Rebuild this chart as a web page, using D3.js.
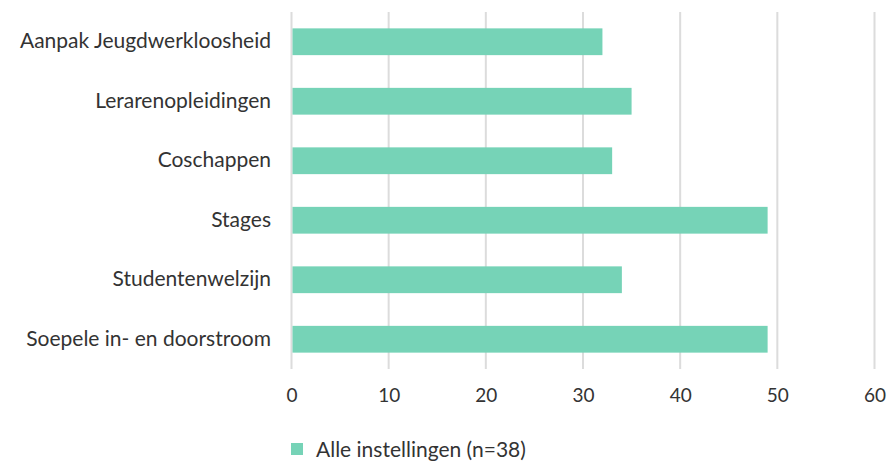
<!DOCTYPE html>
<html><head><meta charset="utf-8">
<script src="https://cdn.jsdelivr.net/npm/d3@7"></script>
<style>body{margin:0;background:#fff}svg{display:block}text{font-family:Lato,"Open Sans",sans-serif}</style>
</head><body><svg id="c" width="887" height="464"></svg>
<script>
const categories = ["Aanpak Jeugdwerkloosheid","Lerarenopleidingen","Coschappen","Stages","Studentenwelzijn","Soepele in- en doorstroom"];
const values = [32,35,33,49,34,49];
const ticks = [0,10,20,30,40,50,60];
const seriesName = "Alle instellingen (n=38)";
const color = "#76d3b7";

const svg = d3.select("#c");
const x = d3.scaleLinear().domain([0,60]).range([291.5,874.5]);
const y = d3.scaleBand().domain(categories).range([12,369]).paddingInner(0.55).paddingOuter(0.275);

// gridlines
svg.append("g").selectAll("line").data(ticks).join("line")
  .attr("x1",d=>x(d)).attr("x2",d=>x(d)).attr("y1",12).attr("y2",369)
  .attr("stroke","#dcdcdc").attr("stroke-width",2);

// bars
svg.append("g").selectAll("rect").data(values).join("rect")
  .attr("x",x(0)+1).attr("y",(d,i)=>y(categories[i]))
  .attr("width",d=>x(d)-x(0)-1).attr("height",y.bandwidth()).attr("fill",color);

// x axis labels
const xa = svg.append("g").attr("transform","translate(0,369)")
  .call(d3.axisBottom(x).tickValues(ticks).tickSize(0).tickPadding(20));
xa.select(".domain").remove();
xa.selectAll("text").attr("font-size",19).attr("fill","#333").style("font-family","Lato,sans-serif");

// y axis labels
const ya = svg.append("g").attr("transform","translate(271,0)")
  .call(d3.axisLeft(y).tickSize(0).tickPadding(0));
ya.select(".domain").remove();
ya.selectAll("text").attr("font-size",21).attr("fill","#333").style("font-family","Lato,sans-serif");

// legend
svg.append("rect").attr("x",291).attr("y",443).attr("width",12).attr("height",12).attr("fill",color);
svg.append("text").attr("x",316).attr("y",450).attr("dy","0.35em").attr("font-size",21).attr("fill","#333").text(seriesName);
</script></body></html>
